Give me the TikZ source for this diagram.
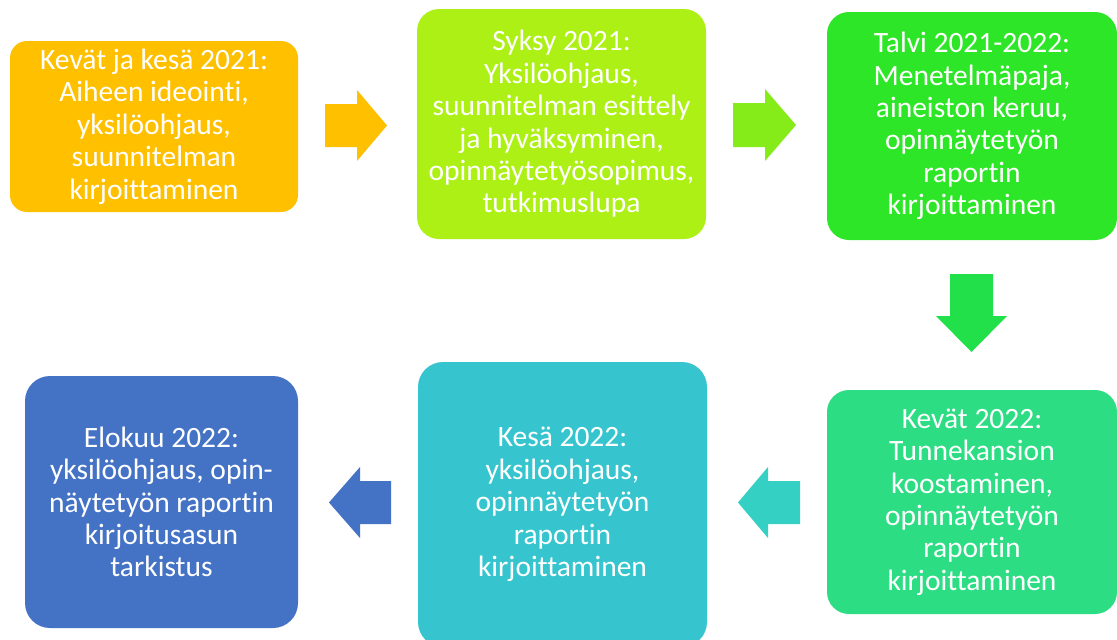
\documentclass[tikz,border=0pt]{standalone}
\usepackage{fontspec}
\setmainfont{Carlito}[Ligatures={NoCommon,NoRequired,NoContextual}]
\definecolor{cOrange}{RGB}{255,192,0}
\definecolor{cLime}{RGB}{173,240,21}
\definecolor{cGreen}{RGB}{46,230,40}
\definecolor{cMint}{RGB}{44,221,132}
\definecolor{cTeal}{RGB}{54,197,206}
\definecolor{cBlue}{RGB}{68,114,196}
\definecolor{aLime}{RGB}{133,236,26}
\definecolor{aGreen}{RGB}{34,224,74}
\definecolor{aTeal}{RGB}{52,208,196}
\begin{document}
\begin{tikzpicture}[x=1pt,y=-1pt,
  stagebox/.style={rectangle, inner sep=0pt, text=white, align=center,
    font=\fontsize{29.5}{32.4}\selectfont},
]
\useasboundingbox (0,0) rectangle (1117,640);
\fill[white] (0,0) rectangle (1117,640);
% boxes
\node[stagebox, fill=cOrange, rounded corners=17pt, minimum width=288pt, minimum height=171pt] (b1) at (154,126.5)
  {Kevät ja kesä 2021:\\Aiheen ideointi,\\yksilöohjaus,\\suunnitelman\\kirjoittaminen};
\node[stagebox, fill=cLime, rounded corners=22pt, minimum width=289pt, minimum height=230pt] (b2) at (561.5,124)
  {Syksy 2021:\\Yksilöohjaus,\\suunnitelman esittely\\ja hyväksyminen,\\opinnäytetyösopimus,\\tutkimuslupa};
\node[stagebox, fill=cGreen, rounded corners=22pt, minimum width=290pt, minimum height=228pt] (b3) at (972,126)
  {Talvi 2021-2022:\\Menetelmäpaja,\\aineiston keruu,\\opinnäytetyön\\raportin\\kirjoittaminen};
\node[stagebox, fill=cMint, rounded corners=22pt, minimum width=290pt, minimum height=224pt] (b4) at (972,502)
  {Kevät 2022:\\Tunnekansion\\koostaminen,\\opinnäytetyön\\raportin\\kirjoittaminen};
\node[stagebox, fill=cTeal, rounded corners=25pt, minimum width=289pt, minimum height=285pt] (b5) at (562.5,504.5)
  {Kesä 2022:\\yksilöohjaus,\\opinnäytetyön\\raportin\\kirjoittaminen};
\node[stagebox, fill=cBlue, rounded corners=25pt, minimum width=273pt, minimum height=252pt] (b6) at (161.5,502)
  {Elokuu 2022:\\yksilöohjaus, opin-\\näytetyön raportin\\kirjoitusasun\\tarkistus};
% block arrows
\fill[cOrange] (325,104) -- (357,104) -- (357,90) -- (387,125.5) -- (357,161) -- (357,147) -- (325,147) -- cycle;
\fill[aLime] (733,103) -- (765,103) -- (765,89) -- (796,125) -- (765,161) -- (765,147) -- (733,147) -- cycle;
\fill[aGreen] (950,274) -- (993,274) -- (993,316) -- (1007,316) -- (971.5,352) -- (936,316) -- (950,316) -- cycle;
\fill[aTeal] (800,481) -- (768,481) -- (768,467) -- (738,502.5) -- (768,538) -- (768,524) -- (800,524) -- cycle;
\fill[cBlue] (391,481) -- (360,481) -- (360,467) -- (329,502.5) -- (360,538) -- (360,524) -- (391,524) -- cycle;
\end{tikzpicture}
\end{document}
